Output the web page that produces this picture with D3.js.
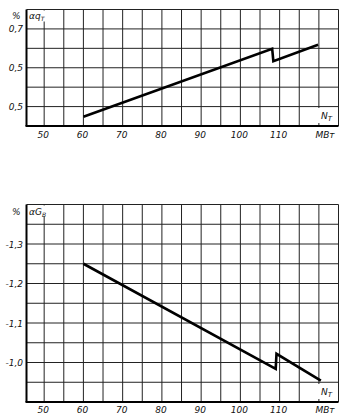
<!DOCTYPE html>
<html><head><meta charset="utf-8">
<script src="https://cdn.jsdelivr.net/npm/d3@7"></script>
<style>body{margin:0;background:#fff}svg{display:block}text{font-family:"DejaVu Sans",sans-serif;font-style:italic;fill:#111}</style>
</head><body><svg id="c" width="351" height="420"></svg>
<script>
const xTicks = [50, 60, 70, 80, 90, 100, 110];
const xTickLabels = ["50", "60", "70", "80", "90", "100", "110"];
const xGrid = [50, 55, 60, 65, 70, 75, 80, 85, 90, 95, 100, 105, 110, 115, 120, 125];

const topYTicks = [0.7, 0.6, 0.5];
const topYLabels = ["0,7", "0,5", "0,5"];
const topYGrid = [0.5, 0.55, 0.6, 0.65, 0.7, 0.75];
const topX = [60, 108.1, 108.4, 119.8];
const topY = [0.474, 0.649, 0.617, 0.659];

const botYTicks = [-1.3, -1.2, -1.1, -1.0];
const botYLabels = ["-1,3", "-1,2", "-1,1", "-1,0"];
const botYGrid = [-1.4, -1.35, -1.3, -1.25, -1.2, -1.15, -1.1, -1.05, -1.0, -0.95];
const botX = [60, 109.0, 109.2, 120.5];
const botY = [-1.25, -0.984, -1.022, -0.954];

const svg = d3.select("#c");
const x = d3.scaleLinear().domain([45.5, 125]).range([26.5, 338.5]);

function panel(yDomain, yRange, yGrid, yTicks, yLabels, xs, ys, unitMain, unitSub, labelY, xLabelY) {
  const y = d3.scaleLinear().domain(yDomain).range(yRange);
  const top = Math.min(...yRange), bot = Math.max(...yRange);
  const g = svg.append("g");
  // grid
  g.selectAll(".vg").data(xGrid).join("line")
    .attr("x1", d => x(d)).attr("x2", d => x(d)).attr("y1", top).attr("y2", bot)
    .attr("stroke", "#222").attr("stroke-width", 1);
  g.selectAll(".hg").data(yGrid).join("line")
    .attr("x1", x(45.5)).attr("x2", x(125)).attr("y1", d => y(d)).attr("y2", d => y(d))
    .attr("stroke", "#222").attr("stroke-width", 1);
  // axes
  g.append("line").attr("x1", x(45.5)).attr("x2", x(45.5)).attr("y1", top).attr("y2", bot)
    .attr("stroke", "#000").attr("stroke-width", 2);
  g.append("line").attr("x1", x(45.5) - 1).attr("x2", x(125)).attr("y1", bot).attr("y2", bot)
    .attr("stroke", "#000").attr("stroke-width", 2);
  // y labels
  g.selectAll(".yl").data(yTicks).join("text")
    .attr("x", 23).attr("y", d => y(d) + 3.5).attr("text-anchor", "end")
    .attr("font-size", 9).text((d, i) => yLabels[i]);
  // x labels
  g.selectAll(".xl").data(xTicks).join("text")
    .attr("x", d => x(d) - 1).attr("y", xLabelY).attr("text-anchor", "middle")
    .attr("font-size", 9).text((d, i) => xTickLabels[i]);
  g.append("text").attr("x", 325).attr("y", xLabelY).attr("text-anchor", "middle")
    .attr("font-size", 9).text("МВт");
  // N_T label
  g.append("rect").attr("x", 318).attr("y", bot - 18).attr("width", 17).attr("height", 15).attr("fill", "#fff");
  const nt = g.append("text").attr("x", 321).attr("y", bot - 7).attr("font-size", 9);
  nt.append("tspan").text("N");
  nt.append("tspan").attr("font-size", 7).attr("dy", 2).text("T");
  // unit label
  g.append("rect").attr("x", 28).attr("y", top + 1).attr("width", 18).attr("height", 11).attr("fill", "#fff");
  g.append("text").attr("x", 12).attr("y", labelY).attr("font-size", 9).text("%");
  const ul = g.append("text").attr("x", 29).attr("y", labelY).attr("font-size", 9);
  ul.append("tspan").text("α" + unitMain);
  ul.append("tspan").attr("font-size", 6).attr("dy", 2).text(unitSub);
  // curve
  const pts = xs.map((d, i) => [d, ys[i]]);
  g.append("path").datum(pts)
    .attr("d", d3.line().x(d => x(d[0])).y(d => y(d[1])))
    .attr("fill", "none").attr("stroke", "#000").attr("stroke-width", 2.6)
    .attr("stroke-linejoin", "miter");
}

panel([0.45, 0.75], [126, 9.5], topYGrid, topYTicks, topYLabels, topX, topY, "q", "T", 19, 138);
panel([-1.4, -0.9], [204.5, 402], botYGrid, botYTicks, botYLabels, botX, botY, "G", "B", 215, 413);
</script></body></html>
